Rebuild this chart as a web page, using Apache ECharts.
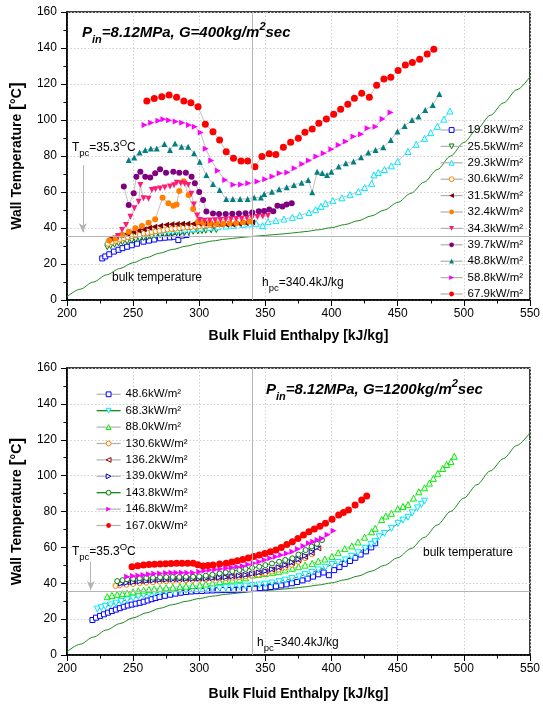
<!DOCTYPE html>
<html><head><meta charset="utf-8">
<script src="https://cdn.jsdelivr.net/npm/echarts/dist/echarts.min.js"></script>
<style>html,body{margin:0;padding:0;background:#fff}#c{width:543px;height:715px}</style>
</head><body><div id="c"></div>
<script>
// ---------- DATA (bulk enthalpy kJ/kg, wall temperature °C) ----------
const bulkCurve = [[200,1.8],[210,6],[220,10],[230,14],[240,17.5],[250,20.7],[260,23.5],[270,26],[280,28.1],[290,29.9],[300,31.5],[310,32.8],[320,33.8],[330,34.6],[340,35.3],[350,35.9],[360,36.5],[370,37.2],[380,38],[390,39],[400,40.2],[410,41.9],[420,44],[430,46.7],[440,50],[450,54.2],[460,59.3],[470,65.5],[480,72.5],[490,80],[500,87.5],[510,95],[520,102.6],[530,109.5],[540,116.8],[550,124]];
const Tpc = 35.3, hpc = 340.4;

// top panel, G=400
const top_19_8 = [[226.7,23.1],[229,24.2],[232,25.4],[235.5,26.9],[239,27.9],[242,28.8],[245.5,29.6],[249,30.4],[253,31.3],[257.9,32.4],[262,33.0],[266,33.6],[270.4,34.3],[274,34.6],[278,34.8],[281,35.1],[284.2,33.3],[287,35.8],[290.4,36.1]];
const top_25_5 = [[230.5,29.3],[233,30.0],[236,30.7],[239,31.4],[242,32.0],[245.5,32.5],[249,33.0],[252,33.5],[255,34.0],[258,34.4],[261,34.8],[264,35.2],[267,35.6],[270.4,36.0],[274,36.3],[277,36.6],[280,36.9],[283,37.1],[286,37.3],[289,37.5],[292,37.7],[295.4,37.9],[299,38.1],[302,38.3],[305,38.5],[309,38.7],[312.9,38.9]];
const top_29_3 = [[230.5,32.4],[235.5,34.3],[240,35.6],[245.5,36.7],[251,37.3],[257.9,37.9],[264,38.2],[270.4,38.5],[277,38.9],[283,39.3],[289,39.4],[295.4,39.6],[301,40],[307.9,40.4],[314,40.7],[320.4,41.1],[326,41.5],[332.9,42],[338,42.3],[343,42.6],[347.9,41.3],[352,43.5],[357.9,44.1],[364,45],[370.4,45.9],[376,47],[382.9,48.6],[388,50.2],[392,52],[395.4,53.7],[401,55.2],[407.8,56.8],[414,58.5],[420.3,60.2],[425,62.5],[430.3,64.8],[432,69.5],[435.3,70.8],[440,72.5],[445.3,74.5],[450,77],[457.8,82.5],[464,86.5],[470.3,89.8],[475,93],[480,96.5],[485,100.5],[489.5,105]];
const top_30_6 = [[231,31.2],[234,32.1],[237,32.9],[240,33.6],[243,34.3],[246,34.9],[249,35.5],[252,36.0],[255,36.5],[258,37.0],[261,37.4],[264,37.8],[267,38.2],[270,38.5],[273,38.9],[276,39.2],[279,39.5],[282,39.7],[285,40.0],[288,40.2],[291,40.4],[294,40.6],[297,40.8],[300,41.0],[303,41.2],[306,41.4],[309,41.6],[312,41.8],[315,42.0]];
const top_31_5 = [[233,34.3],[237,35.2],[241,36.0],[245.5,36.8],[250,37.8],[254,38.6],[258,39.3],[262,40.1],[266,40.7],[270.4,41.3],[275,41.8],[279,42.1],[283,42.2],[287,42.3],[291,42.3],[295.4,42.4],[300,42.4],[304,42.3],[308,42.2],[312,42.2],[316,41.9],[320.4,41.8],[325,42],[330,42.3],[335,42.8],[340,43.2]];
const top_32_4 = [[232,33.0],[236.7,34.2],[241.7,36.1],[246.7,37.9],[251.7,39.8],[256.7,41.1],[261.7,42.9],[266.7,44.8],[272.3,56.8],[276.7,53.7],[280.4,52.4],[282.9,53.1],[284.9,60.5],[288.2,66.0],[292,58.3],[295.4,50.5],[299.1,43.5],[303,42.9],[308,42.6],[313,42.3],[318,42.4],[323,42.6],[328,42.8],[333,43.2],[338,43.6]];
const top_34_3 = [[238.5,35.5],[241.7,38.9],[244.7,41.7],[248,46.3],[251,51],[254.2,54.6],[255.5,63.9],[257.9,56.5],[261.7,56.3],[264.2,61.1],[267,61.5],[270.4,62],[274,62.5],[277.9,63],[281,63.8],[283,65.2],[286,64.9],[289,64.6],[291.7,63.9],[294,59],[296,53],[298.5,47],[300.4,44.4],[304,44],[308,44.2],[312,44.3],[316,44.5],[320,44.6],[324,44.8],[328,45],[332,45.2],[336,45.5],[340,45.8],[344,46.1],[348,46.4],[352,46.8]];
const top_39_7 = [[243,63],[246.7,52.8],[250.5,59.3],[252.5,68.5],[255.5,71.3],[259.2,68.5],[263,68],[266.7,70.4],[270.4,72.6],[274.9,70.7],[280.4,71.3],[284.9,70.7],[289.9,70.7],[294.2,68.5],[296.7,64.8],[300,60],[302.9,55.6],[305.4,49.1],[310.4,48.1],[315,47.8],[320,47.8],[325,47.9],[330,48],[335,48.2],[340,48.6],[345,49.3],[349,49.5],[352.9,50.3],[356,49.3],[359.1,52.3],[362.9,51.9],[366,53],[369.9,53.8]];
const top_48_8 = [[246.7,77.8],[250.9,79.2],[254.9,82.0],[259.2,83.3],[263.4,84.2],[267.9,84.2],[273.7,86.6],[277.9,83.3],[281.7,87.0],[286.6,85.2],[291.6,85.2],[296.1,81.5],[300.4,76.8],[305.4,69.4],[310.4,64.4],[315.4,61.1],[320.4,56.1],[325.4,56.1],[330.9,56.1],[336.6,56.1],[341.6,57.0],[346.6,57.0],[349.1,58.9],[354.9,60.2],[360.4,61.5],[366.1,62.6],[371.6,63.9],[377.4,65.2],[382.4,66.7],[385.4,59.9],[389.1,71.3],[393,70.5],[396.6,69.5],[399.9,71.3],[405.4,74.1],[410.8,76.0],[416.6,76.9],[422.3,79.3],[427.8,81.9],[433.3,83.4],[439.1,84.9],[444.8,88.9],[449.8,93.6],[455.3,96.7],[460.8,100.0],[465.8,101.9],[470.8,105.6],[476.5,108.4],[481.5,114.4]];
const top_58_8 = [[258.7,97.2],[263.7,98.5],[269.2,99.6],[272.9,100.4],[277.2,99.8],[282.2,99.2],[287.1,98.5],[292.2,97.2],[296.6,96.3],[301.1,93.0],[305,84],[309.1,77.5],[314.1,71.8],[319.6,66.6],[325.9,64.0],[331.6,64.2],[337.1,64.9],[344.1,65.8],[349.9,67.1],[355.4,68.6],[360.9,70.4],[366.6,70.8],[372.1,73.2],[377.9,75.6],[382.9,77.5],[388.6,79.7],[394.1,81.5],[399.9,83.7],[405.4,86.1],[410.8,88.0],[416.6,90.8],[422.3,92.1],[427.3,95.4],[433.3,96.3],[438.6,100.6],[444.6,104.1]];
const top_67_9 = [[260.4,110.5],[266,112],[271.7,112.9],[277.2,113.9],[282.9,112.6],[288.4,110.5],[293.7,109.6],[299.1,107.4],[304.6,97.6],[310.4,93.5],[315.4,88.9],[320.4,82.4],[325.9,78.7],[331.6,77.2],[336.6,77.2],[342.1,74],[347.4,79.7],[352.9,81.2],[357.9,80.8],[363.6,84.9],[369.1,87.6],[374.9,89.9],[379.9,93.2],[385.4,95.0],[390.4,98.2],[396.1,100.6],[401.6,103.2],[406.9,106.0],[412.3,108.7],[417.3,112.1],[422.8,114.9],[428.6,112.6],[434.1,119.3],[439.6,122.8],[444.8,123.7],[450.3,127.5],[455.8,130.6],[461.1,131.9],[466.6,133.7],[472.3,136.7],[477.3,139.3]];

// bottom panel, G=1200
const bot_48_6 = [[219.3,19.5],[222,20.8],[225,21.8],[228,22.7],[231,23.6],[234,24.5],[237,25.3],[240,26.1],[243,26.9],[246,27.6],[249,28.1],[252,28.6],[255,29.1],[258,29.7],[261,30.4],[264,31.1],[267,31.8],[270,32.4],[274,33],[278,33.6],[282,34.2],[286,34.7],[290,35.1],[294,35.4],[298,35.6],[302,35.7],[306,35.9],[310,36],[314,36.1],[318,36.2],[322,36.2],[326,36.3],[330,36.4],[334,36.6],[338,36.8],[342,37],[346,37.3],[350,37.6],[354,37.9],[358,38.3],[362,38.8],[366,39.4],[370,40],[374,40.7],[378,41.6],[382,42.6],[386,43.7],[390,45],[394,46],[398,44.5],[402,47.3],[406,49],[410,50.8],[414,52.4],[418,54.2],[422,56],[426,57.8],[430,60],[433,62.3]];
const bot_68_3 = [[223,25.6],[226,26.4],[229,27.1],[233,27.9],[237,28.9],[241,29.8],[245.5,30.7],[250,31.7],[254,32.6],[257.9,33.4],[262,33.9],[266,34.4],[270.4,34.9],[275,35.2],[280,35.5],[285.4,35.8],[290,36.1],[295,36.3],[300.4,36.6],[305,36.8],[310,37.0],[315.4,37.2],[320,37.5],[325,37.8],[330.4,38.1],[335,38.4],[340,38.7],[345.4,39.0],[350,39.5],[355,40.1],[360.4,40.9],[365,41.7],[370,42.6],[375.4,43.6],[380,44.8],[385,46.0],[390,47.4],[395.4,48.9],[400.3,50.5],[405,51.6],[410.4,53.0],[415,55.0],[420,57.0],[425.4,59.5],[430,61.6],[432.8,63.2],[436,65.9],[440,67.8],[445.3,70.6],[450.3,73.4],[454,75.2],[457.8,76.8],[461,79.2],[465,82.0],[468,84.0],[470.3,85.8]];
const bot_88_0 = [[230.5,32.5],[234,33.2],[238,33.8],[242,34.2],[245.5,34.5],[250,35.2],[254,35.8],[257.9,36.2],[262,36.6],[266,36.9],[270.4,37.2],[275,37.5],[280,37.8],[285.4,38.1],[290,38.4],[295,38.7],[300.4,39.0],[305,39.6],[310,40.2],[315.4,40.9],[320,41.4],[325,41.8],[330.4,42.2],[335,43.0],[340.4,44.6],[345,44.9],[350,45.4],[355.4,45.9],[360,46.6],[365,47.4],[370.4,48.3],[375,49.2],[380,50.1],[385.4,51.1],[390,52.3],[395,53.5],[400.3,55.0],[405,57.0],[410,59.3],[415.3,60.8],[420,63.0],[425,65.7],[430.3,68.7],[433,70.6],[437.9,75.5],[441,77.5],[445.3,79.0],[450,81.5],[454,82.8],[457.8,83.8],[462,87.5],[466,91.0],[470.3,93.2],[474,95.8],[477,98.5],[480.3,101.3],[484,104.0],[487,106.2],[490.3,107.8],[492.8,110.8]];
const bot_130_6 = [[236.7,38.5],[240,38.8],[245,39.2],[250,39.6],[255,40],[260,40.3],[265,40.6],[270,40.9],[275,41.1],[280,41.3],[285,41.5],[290,41.7],[295,41.8],[300,42],[305,42.2],[310,42.4],[315,42.6],[320,42.8],[325,43.1],[330,43.4],[335,43.8],[340,44.2],[345,44.8],[350,45.5],[355,46.5],[360,47.6],[365,48.8],[370,50.3],[375,52],[380,54],[385,56.2]];
const bot_136_2 = [[240,40.3],[245,40.6],[250,40.9],[255,41.2],[260,41.5],[265,41.8],[270,42],[275,42.2],[280,42.3],[285,42.4],[290,42.5],[295,42.6],[300,42.7],[305,42.9],[310,43.1],[315,43.3],[320,43.6],[325,43.9],[330,44.3],[335,44.8],[340,45.4],[345,46],[350,46.8],[355,47.7],[360,48.8],[365,50],[370,51.4],[375,53],[380,54.8],[385,57],[390,59.5]];
const bot_139_0 = [[241,39.8],[245,40.2],[250,40.6],[255,41.0],[260,41.3],[265,41.6],[270,41.9],[275,42.1],[280,42.2],[285,42.3],[290,42.4],[295,42.5],[300,42.6],[305,42.7],[310,42.9],[315,43.1],[320,43.4],[325,43.8],[330,44.2],[335,44.7],[340,45.3],[345,46.0],[350,46.8],[355,47.8],[360,48.9],[365,50.2],[370,51.7],[375,53.4],[380,55.3],[385,57.5],[389,60.0]];
const bot_143_8 = [[238,41.2],[242,41.7],[245.5,42.2],[250,42.5],[255,42.8],[260,43],[265,43.1],[270.4,43.3],[275,43.4],[280,43.5],[285,43.5],[290,43.6],[295.4,43.6],[300,43.8],[305,44.2],[310,44.8],[315.4,45.5],[320,46.1],[325,46.7],[330.4,47.4],[335,48],[340,48.6],[345.4,49.2],[350,50.1],[355,51],[360.4,52],[365,53],[370.4,53.9],[375,56],[380.4,58.5],[385,60.5],[389,62],[392.8,64.1]];
const bot_146_8 = [[245.5,43.6],[250,44],[254,44.3],[257.9,44.6],[262,45],[266,45.3],[270.4,45.5],[275,45.7],[279,45.8],[282.9,45.9],[287,45.9],[291,45.9],[295.4,45.9],[300,46.4],[303.9,46.9],[307.9,47.4],[312,47.7],[316,48],[320.4,48.3],[324.5,48.8],[328.7,49.2],[332.9,49.6],[337,50.4],[341.2,51.2],[345.4,52],[349.5,52.9],[353.7,53.9],[357.9,54.8],[362,55.7],[366.2,56.6],[370.4,57.6],[374.6,59.1],[378.8,60.7],[382.9,62.3],[386.2,63.2],[389.5,64.1],[392.8,65.0],[397,67],[401.6,69.3]];
const bot_167_0 = [[249.2,49.2],[253.5,49.8],[257.9,50.2],[262,50.4],[266.2,50.6],[270.4,50.7],[274.6,50.9],[278.7,51],[282.9,51.1],[287,51.1],[291.2,51.1],[295.4,51.1],[299,50.3],[302.9,49.6],[306.6,49.9],[310.4,50.2],[315.4,50.7],[320.4,51.1],[324.6,51.8],[328.8,52.6],[332.9,53.3],[337,54.1],[341.2,54.9],[345.4,55.7],[349.6,56.6],[353.8,57.6],[357.9,58.5],[362,60],[366.2,61.6],[370.4,63.2],[374.6,65],[378.8,66.9],[382.9,68.7],[387,70.3],[391.2,71.8],[395.4,73.4],[400.4,75.7],[405.4,78],[409,79.4],[412.8,80.8],[417.8,83.6],[422.8,86.4],[426.6,88.6]];

const topNames = ['19.8kW/m²','25.5kW/m²','29.3kW/m²','30.6kW/m²','31.5kW/m²','32.4kW/m²','34.3kW/m²','39.7kW/m²','48.8kW/m²','58.8kW/m²','67.9kW/m²'];
const botNames = ['48.6kW/m²','68.3kW/m²','88.0kW/m²','130.6kW/m²','136.2kW/m²','139.0kW/m²','143.8kW/m²','146.8kW/m²','167.0kW/m²'];

// ---------- styling ----------
const FONT = 'Liberation Sans, Arial, sans-serif';
const GRAYLINE = '#b0b0b0';
function S(name, data, gi, sym, color, hollow, size, rot, lineColor){
  return {
    type:'line', name, data, xAxisIndex:gi, yAxisIndex:gi,
    symbol:sym, symbolSize:size, symbolRotate:rot||0, showSymbol:true, showAllSymbol:true,
    itemStyle: hollow ? {color:'#fff', borderColor:color, borderWidth:1} : {color:color, borderWidth:0},
    lineStyle:{color:lineColor||GRAYLINE, width:0.8},
    emphasis:{disabled:true}, animation:false
  };
}
function bulkSeries(gi, arrowFrom, arrowTo){
  return {
    type:'line', name:'bulk'+gi, data:bulkCurve, xAxisIndex:gi, yAxisIndex:gi,
    symbol:'none', smooth:0.3, smoothMonotone:'x',
    lineStyle:{color:'#1f8a1f', width:1}, z:1, animation:false,
    markLine:{
      silent:true, animation:false, symbol:['none','none'], label:{show:false},
      lineStyle:{color:'#b4b4b4', width:1, type:'solid'},
      data:[
        {yAxis:Tpc},{xAxis:hpc},
        [{coord:arrowFrom, symbol:'none'},{coord:arrowTo, symbol:'arrow', symbolSize:[6,9]}]
      ]
    }
  };
}
const topSeries = [
  bulkSeries(0,[212,75],[212,37.6]),
  S(topNames[0], top_19_8, 0, 'rect', '#0000ff', true, 5),
  S(topNames[1], top_25_5, 0, 'triangle', '#008000', true, 5, 180),
  S(topNames[2], top_29_3, 0, 'triangle', '#00e8ff', true, 6),
  S(topNames[3], top_30_6, 0, 'circle', '#ff8000', true, 5),
  S(topNames[4], top_31_5, 0, 'triangle', '#800000', false, 6, 90),
  S(topNames[5], top_32_4, 0, 'circle', '#ff8000', false, 6),
  S(topNames[6], top_34_3, 0, 'triangle', '#ff1a75', false, 6, 180),
  S(topNames[7], top_39_7, 0, 'circle', '#800080', false, 6),
  S(topNames[8], top_48_8, 0, 'triangle', '#008080', false, 6),
  S(topNames[9], top_58_8, 0, 'triangle', '#ff00ff', false, 6, -90),
  S(topNames[10], top_67_9, 0, 'circle', '#ff0000', false, 7)
];
const botSeries = [
  bulkSeries(1,[218,52],[218,36.2]),
  S(botNames[0], bot_48_6, 1, 'rect', '#0000ff', true, 5),
  S(botNames[1], bot_68_3, 1, 'triangle', '#00e8ff', true, 6, 180, '#008000'),
  S(botNames[2], bot_88_0, 1, 'triangle', '#00ee00', true, 6),
  S(botNames[3], bot_130_6, 1, 'circle', '#ff8000', true, 5),
  S(botNames[4], bot_136_2, 1, 'triangle', '#8b0000', true, 5, 90),
  S(botNames[5], bot_139_0, 1, 'triangle', '#0000cc', true, 5, -90),
  S(botNames[6], bot_143_8, 1, 'circle', '#008000', true, 5, 0, '#008000'),
  S(botNames[7], bot_146_8, 1, 'triangle', '#ff00ff', false, 6, -90),
  S(botNames[8], bot_167_0, 1, 'circle', '#ff0000', false, 7)
];

function xAx(gi, gap){
  return {
    type:'value', gridIndex:gi, min:200, max:550, interval:50,
    name:'Bulk Fluid Enthalpy [kJ/kg]', nameLocation:'middle', nameGap:gap,
    nameTextStyle:{fontFamily:FONT, fontSize:14, fontWeight:'bold', color:'#000'},
    axisLine:{lineStyle:{color:'#000', width:1.5}},
    axisTick:{show:true, inside:false, length:6, lineStyle:{color:'#000', width:1}},
    minorTick:{show:true, splitNumber:2, length:3.5, lineStyle:{color:'#000', width:1}},
    splitLine:{show:true, lineStyle:{color:'#cfcfcf', type:[1.5,2], width:1}},
    axisLabel:{fontFamily:FONT, fontSize:12, color:'#000', margin:8}
  };
}
function yAx(gi){
  return {
    type:'value', gridIndex:gi, min:0, max:160, interval:20,
    name:'Wall Temperature {br|[}°C{br|]}', nameLocation:'middle', nameGap:38,
    nameTextStyle:{fontFamily:FONT, fontSize:14, fontWeight:'bold', color:'#000',
      rich:{br:{fontFamily:FONT, fontSize:18, fontWeight:'bold', color:'#000'}}},
    axisLine:{lineStyle:{color:'#000', width:1.5}},
    axisTick:{show:true, inside:false, length:6, lineStyle:{color:'#000', width:1}},
    minorTick:{show:true, splitNumber:2, length:3.5, lineStyle:{color:'#000', width:1}},
    splitLine:{show:true, lineStyle:{color:'#cfcfcf', type:[1.5,2], width:1}},
    axisLabel:{fontFamily:FONT, fontSize:12, color:'#000', margin:10}
  };
}
function legend(names, left, top, itemW){
  return {
    data:names, orient:'vertical', left, top, itemWidth:itemW, itemHeight:6, itemGap:4.4,
    selectedMode:false, padding:0,
    itemStyle:{borderWidth:1},
    lineStyle:{width:1.2},
    textStyle:{fontFamily:FONT, fontSize:11.5, color:'#000'}
  };
}
const richBase = {
  m:{fontFamily:FONT, fontSize:15, fontWeight:'bold', fontStyle:'italic', fill:'#000', lineHeight:24, verticalAlign:'middle'},
  sb:{fontFamily:FONT, fontSize:11, fontWeight:'bold', fontStyle:'italic', fill:'#000', lineHeight:12, verticalAlign:'bottom'},
  sp:{fontFamily:FONT, fontSize:11, fontWeight:'bold', fontStyle:'italic', fill:'#000', lineHeight:12, verticalAlign:'top'},
  n:{fontFamily:FONT, fontSize:12, fill:'#000', lineHeight:20, verticalAlign:'middle'},
  ns:{fontFamily:FONT, fontSize:9.5, fill:'#000', lineHeight:10, verticalAlign:'bottom'},
  nu:{fontFamily:FONT, fontSize:9.5, fill:'#000', lineHeight:10, verticalAlign:'top'}
};
function txt(x, y, text){
  return {type:'text', x, y, z:100, silent:true,
    style:{text, rich:richBase, fill:'#000', font:'12px '+FONT, verticalAlign:'middle', align:'left'}};
}

const option = {
  animation:false, backgroundColor:'#fff',
  grid:[
    {left:66, top:12, width:467, height:288, show:true, borderColor:'#000', borderWidth:1.5, backgroundColor:'transparent'},
    {left:66, top:368, width:467, height:287, show:true, borderColor:'#000', borderWidth:1.5, backgroundColor:'transparent'}
  ],
  xAxis:[xAx(0,29), xAx(1,32)],
  yAxis:[yAx(0), yAx(1)],
  legend:[legend(topNames, 440, 124, 22), legend(botNames, 96, 388.3, 24)],
  series: topSeries.concat(botSeries),
  graphic:[
    txt(82, 33, '{m|P}{sb|in}{m|=8.12MPa, G=400kg/m}{sp|2}{m|sec}'),
    txt(266, 390, '{m|P}{sb|in}{m|=8.12MPa, G=1200kg/m}{sp|2}{m|sec}'),
    txt(72, 148, '{n|T}{ns|pc}{n|=35.3}{nu|O}{n|C}'),
    txt(72, 552, '{n|T}{ns|pc}{n|=35.3}{nu|O}{n|C}'),
    txt(112, 278, '{n|bulk temperature}'),
    txt(423, 553, '{n|bulk temperature}'),
    txt(262, 283, '{n|h}{ns|pc}{n|=340.4kJ/kg}'),
    txt(257, 643, '{n|h}{ns|pc}{n|=340.4kJ/kg}')
  ]
};
const chart = echarts.init(document.getElementById('c'), null, {renderer:'canvas'});
chart.setOption(option);
</script></body></html>
